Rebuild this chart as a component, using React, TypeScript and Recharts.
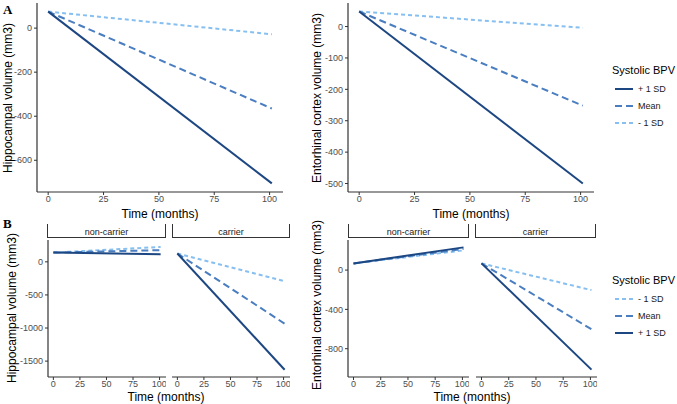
import { LineChart, Line, XAxis, YAxis } from 'recharts';

const FONT = '"Liberation Sans", Arial, sans-serif';
const C_HIGH = '#1d4782';
const C_MEAN = '#4a7ec0';
const C_LOW = '#87c0f0';
const AXIS = '#333333';

// time points (months) at the ends of each fitted line
const timeMonths = [0, 101];
const xTicks = [0, 25, 50, 75, 100];

// A: hippocampal volume
const hippoHigh = [75, -705];
const hippoMean = [75, -365];
const hippoLow = [75, -28];
// A: entorhinal cortex volume
const entoHigh = [48, -500];
const entoMean = [48, -252];
const entoLow = [48, -4];

// B: hippocampal volume by APOE group
const hippoNcHigh = [140, 115];
const hippoNcMean = [140, 177];
const hippoNcLow = [140, 225];
const hippoCaHigh = [126, -1631];
const hippoCaMean = [126, -934];
const hippoCaLow = [126, -293];
// B: entorhinal cortex volume by APOE group
const entoNcHigh = [68, 231];
const entoNcMean = [68, 215];
const entoNcLow = [68, 200];
const entoCaHigh = [68, -1013];
const entoCaMean = [68, -602];
const entoCaLow = [68, -204];

const makeRows = (high: number[], mean: number[], low: number[]) =>
  timeMonths.map((t, i) => ({ time: t, high: high[i], mean: mean[i], low: low[i] }));

const tickStyle = { fill: '#4d4d4d', fontSize: 9, fontFamily: FONT };

function Panel({ x, y, w, h, yDomain, yTicks, rows, showY, xDomain = [-5.05, 106.05] }: any) {
  const yW = 40;
  const xH = 20;
  const left = showY ? x - yW : x;
  return (
    <div style={{ position: 'absolute', left, top: y }}>
      <LineChart
        width={w + (showY ? yW : 0)}
        height={h + xH}
        data={rows}
        margin={{ top: 0, right: 0, bottom: 0, left: 0 }}
      >
        <XAxis
          dataKey="time"
          type="number"
          domain={xDomain}
          ticks={xTicks}
          allowDataOverflow
          height={xH}
          tick={tickStyle}
          tickSize={3}
          tickMargin={1}
          tickLine={{ stroke: AXIS }}
          axisLine={{ stroke: AXIS, strokeWidth: 1.2 }}
        />
        <YAxis
          type="number"
          domain={yDomain}
          ticks={yTicks}
          allowDataOverflow
          hide={!showY}
          width={yW}
          tick={tickStyle}
          tickSize={3}
          tickMargin={2}
          tickLine={{ stroke: AXIS }}
          axisLine={{ stroke: AXIS, strokeWidth: 1.2 }}
        />
        <Line dataKey="low" stroke={C_LOW} strokeWidth={2} strokeDasharray="4 3" dot={false} isAnimationActive={false} />
        <Line dataKey="mean" stroke={C_MEAN} strokeWidth={2} strokeDasharray="7 4" dot={false} isAnimationActive={false} />
        <Line dataKey="high" stroke={C_HIGH} strokeWidth={2} dot={false} isAnimationActive={false} />
      </LineChart>
    </div>
  );
}

function Strip({ x, w, label }: any) {
  return (
    <div
      style={{
        position: 'absolute',
        left: x,
        top: 224,
        width: w,
        height: 14,
        boxSizing: 'border-box',
        borderLeft: `1.2px solid ${AXIS}`,
        borderRight: `1.2px solid ${AXIS}`,
        borderBottom: `1.2px solid ${AXIS}`,
        fontSize: 9,
        lineHeight: '16px',
        textAlign: 'center',
        color: '#1a1a1a',
      }}
    >
      {label}
    </div>
  );
}

function YTitle({ cx, cy, text }: any) {
  return (
    <div
      style={{
        position: 'absolute',
        left: cx,
        top: cy,
        transform: 'translate(-50%, -50%) rotate(-90deg)',
        whiteSpace: 'nowrap',
        fontSize: 12,
        color: '#000',
      }}
    >
      {text}
    </div>
  );
}

function XTitle({ cx, cy, text }: any) {
  return (
    <div
      style={{
        position: 'absolute',
        left: cx,
        top: cy,
        transform: 'translate(-50%, -50%)',
        whiteSpace: 'nowrap',
        fontSize: 12,
        color: '#000',
      }}
    >
      {text}
    </div>
  );
}

const legendA = [
  { label: '+ 1 SD', color: C_HIGH, dash: undefined },
  { label: 'Mean', color: C_MEAN, dash: '7 4' },
  { label: '- 1 SD', color: C_LOW, dash: '4 3' },
];
const legendB = [...legendA].reverse();

function Legend({ top, items }: any) {
  return (
    <div style={{ position: 'absolute', left: 612, top }}>
      <div style={{ fontSize: 11, lineHeight: '14px', whiteSpace: 'nowrap', marginBottom: 4 }}>Systolic BPV</div>
      {items.map((it: any) => (
        <div key={it.label} style={{ display: 'flex', alignItems: 'center', height: 16, marginTop: 1 }}>
          <svg width={20} height={10} style={{ marginLeft: 2 }}>
            <line x1={1} y1={5} x2={19} y2={5} stroke={it.color} strokeWidth={2} strokeDasharray={it.dash} />
          </svg>
          <span style={{ fontSize: 9, marginLeft: 4, color: '#1a1a1a' }}>{it.label}</span>
        </div>
      ))}
    </div>
  );
}

export default function App() {
  return (
    <div
      style={{
        position: 'absolute',
        left: 0,
        top: 0,
        width: 677,
        height: 404,
        background: '#fff',
        fontFamily: FONT,
        overflow: 'hidden',
      }}
    >
      <div style={{ position: 'absolute', left: 3, top: 2, fontFamily: '"Liberation Serif", serif', fontWeight: 700, fontSize: 13 }}>A</div>
      <div style={{ position: 'absolute', left: 3, top: 216, fontFamily: '"Liberation Serif", serif', fontWeight: 700, fontSize: 13 }}>B</div>

      {/* Row A */}
      <Panel x={37} y={3} w={246} h={189} yDomain={[-744, 114]} yTicks={[-600, -400, -200, 0]}
        rows={makeRows(hippoHigh, hippoMean, hippoLow)} showY />
      <Panel x={348} y={3} w={246} h={189} yDomain={[-527, 75]} yTicks={[-500, -400, -300, -200, -100, 0]}
        rows={makeRows(entoHigh, entoMean, entoLow)} showY />
      <YTitle cx={8} cy={98} text="Hippocampal volume (mm3)" />
      <YTitle cx={317} cy={98} text="Entorhinal cortex volume (mm3)" />
      <XTitle cx={160} cy={214} text="Time (months)" />
      <XTitle cx={471} cy={214} text="Time (months)" />
      <Legend top={63} items={legendA} />

      {/* Row B */}
      <Strip x={47} w={119} label="non-carrier" />
      <Strip x={172} w={118} label="carrier" />
      <Strip x={348} w={121} label="non-carrier" />
      <Strip x={475} w={121} label="carrier" />
      <Panel x={47.5} y={240} w={118} h={137} yDomain={[-1740, 330]} yTicks={[-1500, -1000, -500, 0]}
        rows={makeRows(hippoNcHigh, hippoNcMean, hippoNcLow)} showY />
      <Panel x={171.5} y={240} w={118} h={137} yDomain={[-1740, 330]} yTicks={[-1500, -1000, -500, 0]}
        rows={makeRows(hippoCaHigh, hippoCaMean, hippoCaLow)} showY={false} />
      <Panel x={348} y={240} w={121} h={137} yDomain={[-1088, 306]} yTicks={[-800, -400, 0]}
        rows={makeRows(entoNcHigh, entoNcMean, entoNcLow)} showY />
      <Panel x={476} y={240} w={121} h={137} yDomain={[-1088, 306]} yTicks={[-800, -400, 0]}
        rows={makeRows(entoCaHigh, entoCaMean, entoCaLow)} showY={false} />
      <YTitle cx={12} cy={308} text="Hippocampal volume (mm3)" />
      <YTitle cx={317} cy={305} text="Entorhinal cortex volume (mm3)" />
      <XTitle cx={166} cy={397} text="Time (months)" />
      <XTitle cx={472} cy={397} text="Time (months)" />
      <Legend top={273} items={legendB} />
    </div>
  );
}
